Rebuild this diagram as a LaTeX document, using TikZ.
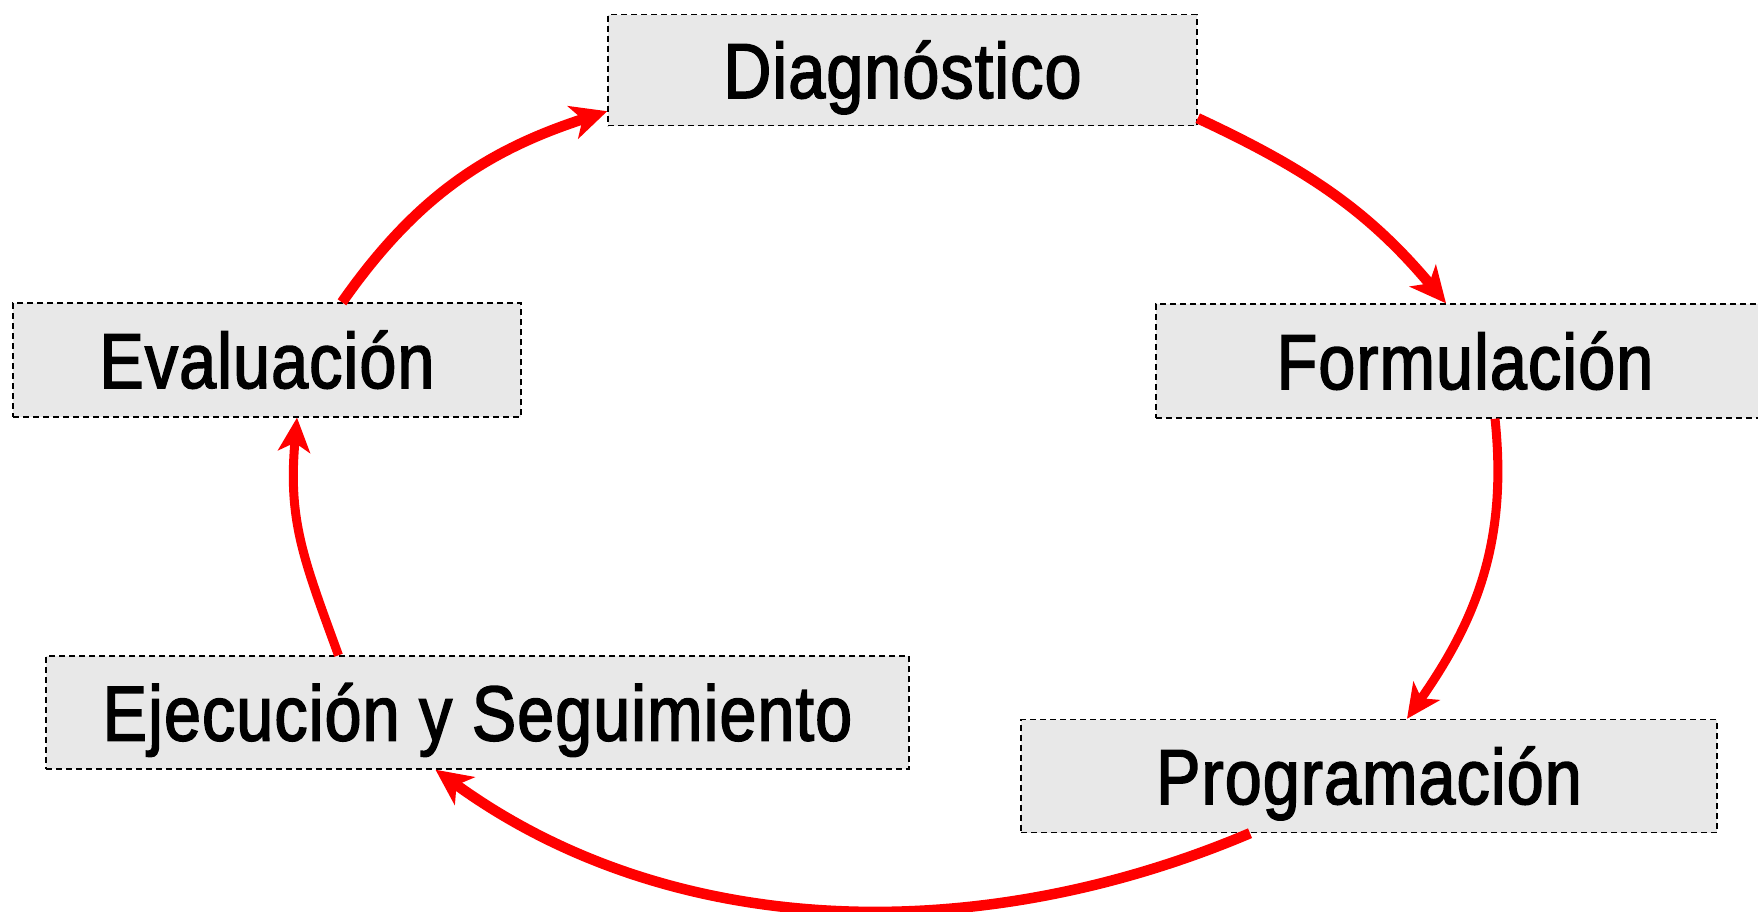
\documentclass[tikz,border=0pt]{standalone}
\usepackage{fontspec}
\setmainfont{Liberation Sans}[FakeStretch=0.85,FakeBold=2,LetterSpace=1.5]
\usetikzlibrary{arrows.meta}
\definecolor{boxgray}{RGB}{232,232,232}
\definecolor{arrred}{RGB}{255,0,0}
\begin{document}
\begin{tikzpicture}[x=1pt,y=1pt,
  stagebox/.style={draw=black, line width=1.4pt, dash pattern=on 6pt off 4pt,
    fill=boxgray, inner sep=0pt, text height=56pt, text depth=0pt,
    font=\fontsize{78}{90}\selectfont},
  arrthick/.style={draw=arrred, line width=10.5pt,
    -{Stealth[length=36pt,width=34pt,inset=10pt]}},
  arrthin/.style={draw=arrred, line width=9pt,
    -{Stealth[length=34pt,width=32pt,inset=9pt]}}]
\useasboundingbox (0,0) rectangle (1758,-911);
\node[stagebox, minimum width=589pt, minimum height=111pt] (D) at (902.5,-70) {Diagnóstico};
\node[stagebox, minimum width=618pt, minimum height=114pt] (F) at (1465,-361) {Formulación};
\node[stagebox, minimum width=508pt, minimum height=114pt] (V) at (267,-360) {Evaluación};
\node[stagebox, minimum width=863pt, minimum height=113pt] (E) at (477.5,-712.5) {Ejecución y Seguimiento};
\node[stagebox, minimum width=696pt, minimum height=113pt] (P) at (1369,-776) {Programación};

\draw[arrthick] ([yshift=8pt]D.south east) to[out=-25,in=130] ([xshift=-19pt]F.north);
\draw[arrthin] ([xshift=30pt]F.south) to[out=-84,in=55] ([xshift=38pt]P.north);
\draw[arrthick] ([xshift=-119pt]P.south) to[out=-157,in=-36,looseness=0.92] ([xshift=-42pt]E.south);
\draw[arrthin] ([xshift=-139pt]E.north) to[out=110,in=-95,looseness=1.1] ([xshift=30pt]V.south);
\draw[arrthick] ([xshift=75pt]V.north) to[out=55,in=198] ([yshift=15pt]D.south west);
\end{tikzpicture}
\end{document}
